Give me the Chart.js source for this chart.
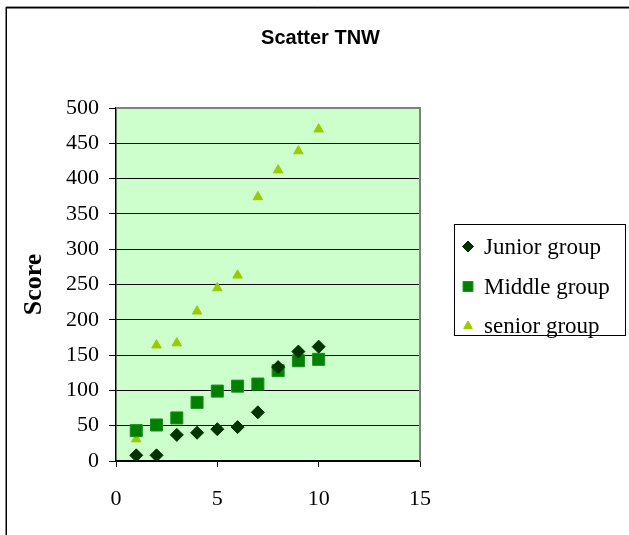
<!DOCTYPE html>
<html lang="en">
<head>
	<meta charset="UTF-8">
	<title>Scatter TNW</title>
	<script src="https://cdn.jsdelivr.net/npm/chart.js@4.4.0/dist/chart.umd.min.js"></script>
	<style>
		body { margin: 0; background: #fff; }
	</style>
</head>
<body>
	<canvas id="myChart" width="629" height="535"></canvas>
<script>
	// values
	const xValues = [1, 2, 3, 4, 5, 6, 7, 8, 9, 10];
	const junior = [8, 8, 37, 40, 45, 48, 69, 133, 155, 162];
	const middle = [43, 51, 61, 83, 99, 106, 109, 128, 142, 144];
	const senior = [31, 164, 167, 212, 245, 263, 374, 412, 439, 470];
	const seriesNames = ['Junior group', 'Middle group', 'senior group'];

	function toPoints(ys) {
		return ys.map((y, i) => ({ x: xValues[i], y: y }));
	}

	const serif = '"Liberation Serif", "DejaVu Serif", serif';

	// light green plot area + grey top/right edges + outer frame
	const plotDecor = {
		id: 'plotDecor',
		beforeDraw(chart) {
			const a = chart.chartArea;
			const ctx = chart.ctx;
			ctx.save();
			ctx.fillStyle = '#ccffcc';
			ctx.fillRect(a.left, a.top, a.right - a.left, a.bottom - a.top);
			ctx.restore();
		},
		beforeDatasetsDraw(chart) {
			const a = chart.chartArea;
			const ctx = chart.ctx;
			ctx.save();
			ctx.strokeStyle = '#808080';
			ctx.lineWidth = 2;
			ctx.beginPath();
			ctx.moveTo(a.left, a.top);
			ctx.lineTo(a.right, a.top);
			ctx.lineTo(a.right, a.bottom);
			ctx.stroke();
			ctx.restore();
		},
		afterDraw(chart) {
			const ctx = chart.ctx;
			ctx.save();
			ctx.strokeStyle = '#999';
			ctx.lineWidth = 1;
			ctx.beginPath();
			ctx.moveTo(6, 6.5);
			ctx.lineTo(629, 6.5);
			ctx.stroke();
			ctx.strokeStyle = '#000';
			ctx.lineWidth = 1.5;
			ctx.beginPath();
			ctx.moveTo(629, 7.75);
			ctx.lineTo(6.25, 7.75);
			ctx.lineTo(6.25, 535);
			ctx.stroke();
			ctx.restore();
		}
	};

	// boxed legend on the right
	const boxLegend = {
		id: 'boxLegend',
		afterDraw(chart) {
			const ctx = chart.ctx;
			const box = { x: 454.5, y: 224.5, w: 171, h: 111 };
			const rows = [246.5, 286.5, 326];
			ctx.save();
			ctx.strokeStyle = '#000';
			ctx.lineWidth = 1;
			ctx.strokeRect(box.x, box.y, box.w, box.h);
			ctx.font = '23px ' + serif;
			ctx.textBaseline = 'middle';
			ctx.textAlign = 'left';
			chart.data.datasets.forEach((ds, i) => {
				const y = rows[i];
				ctx.fillStyle = ds.backgroundColor;
				ctx.strokeStyle = ds.borderColor;
				ctx.lineWidth = 1;
				const legendRadius = [5.5, 7, 5][i];
				Chart.helpers.drawPoint(ctx, { pointStyle: ds.pointStyle, radius: legendRadius, borderWidth: 1, rotation: 0 }, 468, y);
				ctx.fillStyle = '#000';
				ctx.fillText(ds.label, 484, y + 1);
			});
			ctx.restore();
		}
	};

	const ctx = document.getElementById('myChart').getContext('2d');
	const myChart = new Chart(ctx, {
		type: 'scatter',
		data: {
			datasets: [
				{
					label: seriesNames[0],
					data: toPoints(junior),
					pointStyle: 'rectRot',
					pointRadius: 6.5,
					backgroundColor: '#003300',
					borderColor: '#003300',
					borderWidth: 1
				},
				{
					label: seriesNames[1],
					data: toPoints(middle),
					pointStyle: 'rect',
					pointRadius: 8.5,
					backgroundColor: '#008000',
					borderColor: '#1a8c1a',
					borderWidth: 1
				},
				{
					label: seriesNames[2],
					data: toPoints(senior),
					pointStyle: 'triangle',
					pointRadius: 5.5,
					backgroundColor: '#99cc00',
					borderColor: '#99cc00',
					borderWidth: 1
				}
			]
		},
		options: {
			responsive: false,
			animation: false,
			devicePixelRatio: 1,
			layout: { padding: { left: 12, right: 0, top: 0, bottom: 0 } },
			plugins: {
				legend: { display: false },
				tooltip: { enabled: false },
				title: {
					display: true,
					text: 'Scatter TNW',
					color: '#000',
					font: { family: '"Liberation Sans", Arial, sans-serif', size: 20, weight: 'bold' },
					padding: { top: 26, bottom: 58 }
				}
			},
			scales: {
				x: {
					type: 'linear',
					min: 0,
					max: 15,
					ticks: {
						stepSize: 5,
						color: '#000',
						padding: 19,
						font: { family: serif, size: 22 }
					},
					grid: {
						drawOnChartArea: false,
						drawTicks: true,
						tickLength: 6,
						color: '#000'
					},
					border: { color: '#000', width: 1.5 },
					afterFit(scale) { scale.height = 74; }
				},
				y: {
					min: 0,
					max: 500,
					ticks: {
						stepSize: 50,
						color: '#000',
						padding: 10,
						font: { family: serif, size: 22 }
					},
					grid: {
						color: '#000',
						tickLength: 7,
						lineWidth: 1
					},
					border: { color: '#000', width: 1.5 },
					title: {
						display: true,
						text: 'Score',
						color: '#000',
						font: { family: serif, size: 26, weight: 'bold' },
						padding: { top: 7, bottom: 0 }
					},
					afterFit(scale) { scale.width = 104; }
				},
				// empty axis that keeps the room for the legend on the right
				side: {
					type: 'linear',
					position: 'right',
					display: true,
					grid: { display: false },
					ticks: { display: false },
					border: { display: false },
					afterFit(scale) { scale.width = 209; }
				}
			}
		},
		plugins: [plotDecor, boxLegend]
	});
</script>
</body>
</html>
